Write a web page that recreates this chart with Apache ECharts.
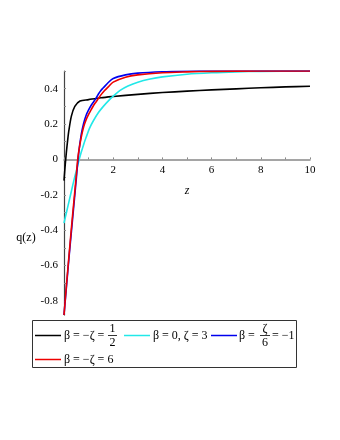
<!DOCTYPE html>
<html><head><meta charset="utf-8">
<script src="https://cdn.jsdelivr.net/npm/echarts@6/dist/echarts.min.js"></script>
<style>html,body{margin:0;padding:0;background:#fff}#c{width:340px;height:440px}</style>
</head><body><div id="c"></div>
<script>
// data
var zBlack = [0, 0.05, 0.1, 0.15, 0.2, 0.3, 0.44, 0.65, 1.0, 1.5, 2, 3, 4, 5, 6, 7, 8, 9, 10];
var qBlack = [-0.12, -0.03, 0.045, 0.11, 0.165, 0.245, 0.3, 0.33, 0.338, 0.349, 0.356, 0.368, 0.378, 0.386, 0.393, 0.399, 0.405, 0.41, 0.414];

var zCyan = [0, 0.1, 0.2, 0.3, 0.4, 0.5, 0.62, 0.7, 0.8, 0.9, 1.05, 1.2, 1.4, 1.6, 1.9, 2.0, 2.28, 2.6, 3, 3.5, 4, 5, 6, 7, 8, 10];
var qCyan = [-0.36, -0.3, -0.24, -0.18, -0.12, -0.065, 0, 0.04, 0.085, 0.125, 0.18, 0.22, 0.265, 0.3, 0.345, 0.358, 0.39, 0.415, 0.437, 0.455, 0.467, 0.482, 0.49, 0.495, 0.498, 0.5];

var zBlue = [0, 0.1, 0.2, 0.3, 0.4, 0.5, 0.6, 0.7, 0.8, 0.9, 1.0, 1.1, 1.2, 1.3, 1.4, 1.5, 1.6, 1.8, 2.0, 2.5, 3, 4, 5, 6, 10];
var qBlue = [-0.88, -0.72, -0.56, -0.41, -0.26, -0.11, 0.04, 0.14, 0.205, 0.25, 0.28, 0.305, 0.325, 0.345, 0.37, 0.39, 0.405, 0.435, 0.458, 0.478, 0.488, 0.496, 0.499, 0.5, 0.5];

var zRed = [0, 0.1, 0.2, 0.3, 0.4, 0.5, 0.55, 0.6, 0.7, 0.8, 0.9, 1.0, 1.1, 1.2, 1.3, 1.4, 1.5, 1.65, 1.8, 2.0, 2.5, 3, 4, 5, 6, 8, 10];
var qRed = [-0.88, -0.71, -0.55, -0.39, -0.24, -0.09, -0.01, 0.045, 0.125, 0.185, 0.225, 0.255, 0.28, 0.305, 0.325, 0.345, 0.365, 0.39, 0.41, 0.437, 0.465, 0.478, 0.49, 0.495, 0.498, 0.5, 0.5];

var yTickLabels = [-0.8, -0.6, -0.4, -0.2, 0, 0.2, 0.4];
var yMinorTicks = [-0.8, -0.7, -0.6, -0.5, -0.4, -0.3, -0.2, -0.1, 0, 0.1, 0.2, 0.3, 0.4, 0.5];

function pairs(xs, ys) { return xs.map(function (x, i) { return [x, ys[i]]; }); }

var serif = "'Liberation Serif', 'Times New Roman', serif";
var chart = echarts.init(document.getElementById('c'));

var Y_MIN = -0.88, Y_MAX = 0.5, G_TOP = 71, G_BOTTOM = 125, H = 440;
var gridH = H - G_TOP - G_BOTTOM;
var zeroOffset = -(gridH * (0 - Y_MIN) / (Y_MAX - Y_MIN)); // lift x axis to y = 0

function line(color, xs, ys) {
  return { type: 'line', data: pairs(xs, ys), smooth: 0.3, showSymbol: false, symbol: 'none',
    lineStyle: { color: color, width: 1.6 }, itemStyle: { color: color }, animation: false };
}

function txt(x, y, s, align) {
  return { type: 'text', x: x, y: y, z: 100, style: { text: s, font: '12px ' + serif, fill: '#000',
    align: align || 'left', verticalAlign: 'middle', textAlign: align || 'left', textVerticalAlign: 'middle' } };
}
function seg(x1, y1, x2, y2, c, w) {
  return { type: 'line', z: 100, shape: { x1: x1, y1: y1, x2: x2, y2: y2 }, style: { stroke: c, lineWidth: w } };
}

chart.setOption({
  animation: false,
  grid: { left: 64, right: 30, top: G_TOP, bottom: G_BOTTOM, outerBoundsMode: 'none' },
  xAxis: {
    type: 'value', min: 0, max: 10, interval: 2, offset: zeroOffset,
    name: 'z', nameLocation: 'middle', nameGap: 25,
    nameTextStyle: { fontFamily: serif, fontStyle: 'italic', fontSize: 12, color: '#000' },
    axisLine: { onZero: false, lineStyle: { color: '#888', width: 1.5 } },
    axisTick: { show: true, length: 2, inside: true, lineStyle: { color: '#888' } },
    minorTick: { show: true, splitNumber: 2, length: 2, lineStyle: { color: '#888' } },
    axisLabel: { margin: 5, fontFamily: serif, fontSize: 11, color: '#000',
      formatter: function (v) { return v === 0 ? '' : String(v); } },
    splitLine: { show: false }
  },
  yAxis: {
    type: 'value', min: Y_MIN, max: Y_MAX,
    axisLine: { show: true, onZero: false, lineStyle: { color: '#444', width: 1.2 } },
    axisTick: { show: true, length: 2, inside: true, customValues: yMinorTicks, lineStyle: { color: '#888' } },
    axisLabel: { margin: 6, fontFamily: serif, fontSize: 11, color: '#000', customValues: yTickLabels,
      formatter: function (v) { return String(Math.round(v * 10) / 10); } },
    splitLine: { show: false }
  },
  series: [
    line('#000000', zBlack, qBlack),
    line('#22e8e8', zCyan, qCyan),
    line('#0000ee', zBlue, qBlue),
    line('#ee0000', zRed, qRed)
  ],
  graphic: [
    txt(26, 238, 'q(z)', 'center'),
    { type: 'rect', z: 100, shape: { x: 32.5, y: 320.5, width: 264, height: 47 }, style: { fill: 'none', stroke: '#333', lineWidth: 1 } },
    seg(35, 335.5, 61, 335.5, '#000', 1.5),
    txt(64, 336, 'β = −ζ ='),
    txt(112.5, 329, '1', 'center'),
    seg(108, 335.5, 117, 335.5, '#000', 0.8),
    txt(112.5, 342.5, '2', 'center'),
    seg(124, 335.5, 150, 335.5, '#22e8e8', 1.5),
    txt(153, 336, 'β = 0, ζ = 3'),
    seg(211, 335.5, 237, 335.5, '#0000ee', 1.5),
    txt(239, 336, 'β ='),
    txt(265, 329, 'ζ', 'center'),
    seg(260, 335.5, 270, 335.5, '#000', 0.8),
    txt(265, 342.5, '6', 'center'),
    txt(272, 336, '= −1'),
    seg(35, 359.5, 61, 359.5, '#ee0000', 1.5),
    txt(64, 360, 'β = −ζ = 6')
  ]
});
</script></body></html>
